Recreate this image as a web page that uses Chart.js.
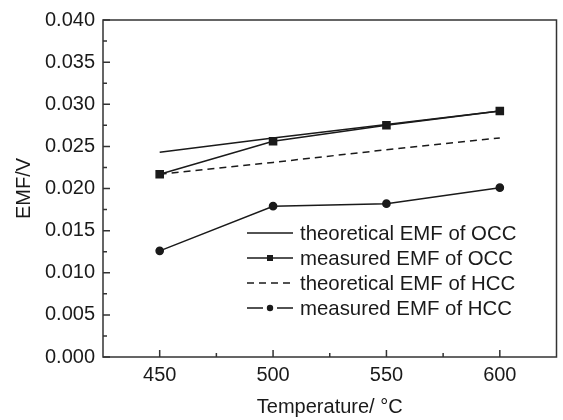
<!DOCTYPE html>
<html>
<head>
<meta charset="utf-8">
<script src="https://cdn.jsdelivr.net/npm/chart.js@4/dist/chart.umd.min.js"></script>
<style>
  html, body { margin: 0; padding: 0; background: #fff; }
  #wrap { width: 563px; height: 420px; }
</style>
</head>
<body>
<div id="wrap"><canvas id="emf"></canvas></div>
<script>
// temperatures (degC) and EMF values (V)
const temps = [450, 500, 550, 600];
const theoOCC = [0.0243, 0.0260, 0.0276, 0.0292];
const measOCC = [0.0217, 0.0256, 0.0275, 0.0292];
const theoHCC = [0.0217, 0.0231, 0.0246, 0.0260];
const measHCC = [0.0126, 0.0179, 0.0182, 0.0201];

const seriesNames = [
  'theoretical EMF of OCC',
  'measured EMF of OCC',
  'theoretical EMF of HCC',
  'measured EMF of HCC'
];
const xTicks = [450, 500, 550, 600];
const yTicks = [0, 0.005, 0.010, 0.015, 0.020, 0.025, 0.030, 0.035, 0.040];

const FONT = '"Liberation Sans", Arial, sans-serif';
const INK = '#1a1a1a';

function pts(vals){
  return temps.map((t, i) => ({x: t, y: vals[i]}));
}

// inward ticks, frame and the in-plot legend
const framePlugin = {
  id: 'frame',
  afterDraw(chart){
    const ctx = chart.ctx;
    const a = chart.chartArea;
    const xs = chart.scales.x, ys = chart.scales.y;
    ctx.save();
    ctx.strokeStyle = '#333';
    ctx.lineWidth = 1.5;
    ctx.strokeRect(a.left, a.top, a.right - a.left, a.bottom - a.top);

    ctx.beginPath();
    xTicks.forEach((v, i) => {
      const px = xs.getPixelForValue(v);
      ctx.moveTo(px, a.bottom); ctx.lineTo(px, a.bottom - 7);
      if (i < xTicks.length - 1) {
        const m = xs.getPixelForValue((v + xTicks[i + 1]) / 2);
        ctx.moveTo(m, a.bottom); ctx.lineTo(m, a.bottom - 4);
      }
    });
    yTicks.forEach((v, i) => {
      const py = ys.getPixelForValue(v);
      ctx.moveTo(a.left, py); ctx.lineTo(a.left + 7, py);
      if (i < yTicks.length - 1) {
        const m = ys.getPixelForValue((v + yTicks[i + 1]) / 2);
        ctx.moveTo(a.left, m); ctx.lineTo(a.left + 4, m);
      }
    });
    ctx.stroke();

    // legend
    const x0 = 247, x1 = 293, tx = 300, y0 = 233, dy = 25;
    ctx.font = '20.4px ' + FONT;
    ctx.textBaseline = 'middle';
    ctx.fillStyle = INK;
    chart.data.datasets.forEach((ds, i) => {
      const y = y0 + i * dy;
      const cx = (x0 + x1) / 2;
      ctx.strokeStyle = INK;
      ctx.lineWidth = 1.5;
      ctx.setLineDash(ds.borderDash || []);
      ctx.beginPath();
      if (ds.pointStyle === 'circle') {
        ctx.moveTo(x0, y); ctx.lineTo(cx - 7, y);
        ctx.moveTo(cx + 7, y); ctx.lineTo(x1, y);
      } else {
        ctx.moveTo(x0, y); ctx.lineTo(x1, y);
      }
      ctx.stroke();
      ctx.setLineDash([]);
      if (ds.pointStyle === 'rect' && ds.pointRadius > 0) {
        ctx.fillRect(cx - 3, y - 3, 6, 6);
      } else if (ds.pointStyle === 'circle' && ds.pointRadius > 0) {
        ctx.beginPath(); ctx.arc(cx, y, 3.2, 0, Math.PI * 2); ctx.fill();
      }
      ctx.fillText(ds.label, tx, y + 1);
    });
    ctx.restore();
  }
};

new Chart(document.getElementById('emf'), {
  type: 'line',
  data: {
    datasets: [
      {label: seriesNames[0], data: pts(theoOCC), borderColor: INK, borderWidth: 1.5,
       pointRadius: 0, pointStyle: 'line'},
      {label: seriesNames[1], data: pts(measOCC), borderColor: INK, borderWidth: 1.5,
       pointStyle: 'rect', pointRadius: 5, backgroundColor: INK, pointBackgroundColor: INK},
      {label: seriesNames[2], data: pts(theoHCC), borderColor: INK, borderWidth: 1.5,
       borderDash: [7, 5], pointRadius: 0, pointStyle: 'line'},
      {label: seriesNames[3], data: pts(measHCC), borderColor: INK, borderWidth: 1.5,
       pointStyle: 'circle', pointRadius: 3.6, backgroundColor: INK, pointBackgroundColor: INK}
    ]
  },
  options: {
    responsive: true,
    maintainAspectRatio: false,
    animation: false,
    events: [],
    layout: {padding: {top: 18, right: 2, bottom: 1, left: 0}},
    plugins: {legend: {display: false}, tooltip: {enabled: false}},
    scales: {
      x: {
        type: 'linear',
        min: 425, max: 625,
        afterBuildTicks: s => { s.ticks = xTicks.map(v => ({value: v})); },
        afterFit: s => { s.height = 62; },
        grid: {display: false, drawTicks: false},
        border: {display: false},
        ticks: {color: INK, font: {family: FONT, size: 20}, padding: 6, maxRotation: 0},
        title: {display: true, text: 'Temperature/ °C', color: INK,
                font: {family: FONT, size: 20}, padding: {top: 0, bottom: 0}}
      },
      y: {
        min: 0, max: 0.04,
        afterBuildTicks: s => { s.ticks = yTicks.map(v => ({value: v})); },
        afterFit: s => { s.width = 103; },
        grid: {display: false, drawTicks: false},
        border: {display: false},
        ticks: {color: INK, font: {family: FONT, size: 20}, padding: 8,
                callback: v => v.toFixed(3)},
        title: {display: true, text: 'EMF/V', color: INK,
                font: {family: FONT, size: 20}, padding: {top: 12, bottom: 0}}
      }
    }
  },
  plugins: [framePlugin]
});
</script>
</body>
</html>
